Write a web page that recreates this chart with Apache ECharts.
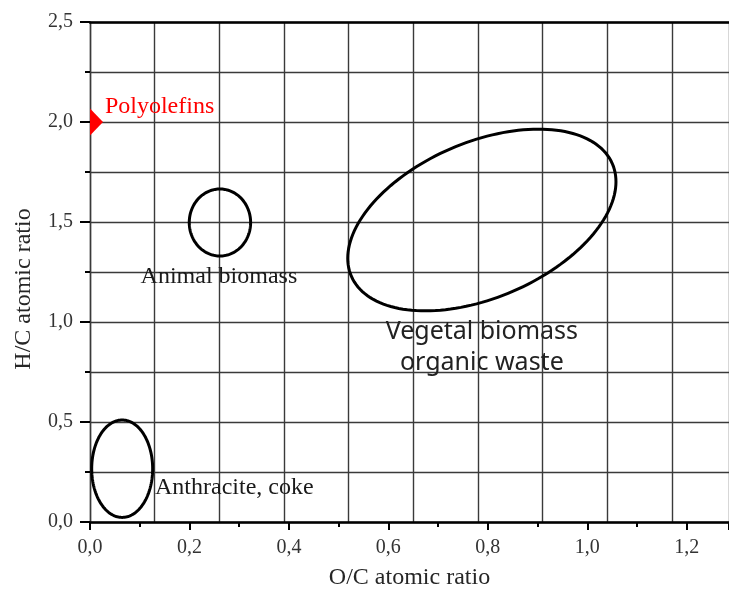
<!DOCTYPE html>
<html>
<head>
<meta charset="utf-8">
<script src="https://cdn.jsdelivr.net/npm/echarts@6/dist/echarts.min.js"></script>
<style>
html,body{margin:0;padding:0;background:#fff;}
#chart{width:729px;height:598px;}
</style>
</head>
<body>
<div id="chart"></div>
<script>
// ---- data ----
var xTicks = [0, 0.2, 0.4, 0.6, 0.8, 1.0, 1.2];
var yTicks = [0, 0.5, 1.0, 1.5, 2.0, 2.5];
var regionNames = ['Anthracite, coke', 'Animal biomass', 'Vegetal biomass\norganic waste'];
var regionCenterX = [0.0647, 0.2613, 0.788];
var regionCenterY = [0.2665, 1.4975, 1.51];
var regionRadiusX = [0.0613, 0.0617, 0.2697];
var regionRadiusY = [0.2435, 0.1675, 0.412];
var regionTilt = [0, 0, 0.1915];
var regionLabelX = [0.1307, 0.2593, 0.788];
var regionLabelY = [0.17, 1.225, 0.875];
var pointName = ['Polyolefins'];
var pointX = [0];
var pointY = [2.0];
var pointLabelX = [0.030];
var pointLabelY = [2.075];

var chart = echarts.init(document.getElementById('chart'));
var serif = "'Liberation Serif','Times New Roman',serif";
function fmt(v){ return v.toFixed(1).replace('.', ','); }

var ellipseData = regionCenterX.map(function(c, i){
  return [c, regionCenterY[i], regionRadiusX[i], regionRadiusY[i], regionTilt[i]];
});

function renderEllipse(params, api){
  var cx = api.value(0), cy = api.value(1), rx = api.value(2), ry = api.value(3), tl = api.value(4);
  var pts = [];
  var N = 160;
  for (var k = 0; k < N; k++){
    var t = 2 * Math.PI * k / N;
    pts.push(api.coord([cx + rx * Math.cos(t), cy + tl * Math.cos(t) + ry * Math.sin(t)]));
  }
  return {type:'polygon', shape:{points: pts}, style:{fill:'none', stroke:'#000', lineWidth:3}};
}

var txt = {textBorderWidth: 0, textShadowBlur: 0};
function lbl(extra){ return Object.assign({show: true, formatter: function(p){return p.value[2];}}, txt, extra); }
var solid = {opacity: 1};

var xMax = 1.285;
var option = {
  animation: false,
  grid: {left: 90, top: 22, right: 0, bottom: 76, containLabel: false},
  xAxis: [{
    type: 'value', min: 0, max: xMax, interval: 0.2, position: 'bottom',
    name: 'O/C atomic ratio', nameLocation: 'middle', nameGap: 44,
    nameTextStyle: {fontFamily: serif, fontSize: 24, color: '#262626'},
    axisLine: {show: true, lineStyle: {color: '#000', width: 2.5}},
    axisTick: {show: true, length: 8, lineStyle: {color: '#000', width: 2}},
    minorTick: {show: true, splitNumber: 2, length: 5, lineStyle: {color: '#000', width: 2}},
    splitLine: {show: false},
    axisLabel: {fontFamily: serif, fontSize: 20, color: '#333', margin: 16, formatter: fmt,
      customValues: xTicks}
  }, {
    type: 'value', min: 0, max: xMax, interval: 0.13, position: 'top',
    axisLine: {show: true, lineStyle: {color: '#000', width: 2.5}},
    axisTick: {show: false}, axisLabel: {show: false},
    splitLine: {show: true, lineStyle: {color: '#3a3a3a', width: 1.4}}
  }],
  yAxis: [{
    type: 'value', min: 0, max: 2.5, interval: 0.5,
    name: 'H/C atomic ratio', nameLocation: 'middle', nameGap: 54,
    nameTextStyle: {fontFamily: serif, fontSize: 24, color: '#262626', padding: [0, 34, 0, 0]},
    axisLine: {show: true, lineStyle: {color: '#3a3a3a', width: 1.4}},
    axisTick: {show: true, length: 10, lineStyle: {color: '#000', width: 2}},
    minorTick: {show: true, splitNumber: 2, length: 5, lineStyle: {color: '#000', width: 2}},
    splitLine: {show: true, lineStyle: {color: '#3a3a3a', width: 1.4}},
    minorSplitLine: {show: true, lineStyle: {color: '#3a3a3a', width: 1.4}},
    axisLabel: {fontFamily: serif, fontSize: 20, color: '#333', margin: 17, formatter: fmt,
      customValues: yTicks}
  }],
  series: [{
    type: 'custom', renderItem: renderEllipse, data: ellipseData,
    encode: {x: 0, y: 1}, clip: false, z: 3
  }, {
    type: 'scatter', symbolSize: 0, z: 4, itemStyle: solid,
    data: [[regionLabelX[0], regionLabelY[0], regionNames[0]]],
    label: lbl({position: 'right', distance: 0, fontFamily: serif, fontSize: 24, color: '#1a1a1a'})
  }, {
    type: 'scatter', symbolSize: 0, z: 4, itemStyle: solid,
    data: [[regionLabelX[1], regionLabelY[1], regionNames[1]]],
    label: lbl({position: 'inside', fontFamily: serif, fontSize: 24, color: '#1a1a1a'})
  }, {
    type: 'scatter', symbolSize: 0, z: 4, itemStyle: solid,
    data: [[regionLabelX[2], regionLabelY[2], regionNames[2]]],
    label: lbl({position: 'inside', fontFamily: "'Noto Sans',sans-serif", fontSize: 25, lineHeight: 31, color: '#222'})
  }, {
    type: 'scatter', z: 5,
    symbol: 'path://M0,0 L1,0.5 L0,1 Z', symbolSize: [13, 27], symbolOffset: [6.5, 0],
    itemStyle: {color: '#ff0000', opacity: 1},
    data: pointX.map(function(x, i){ return [x, pointY[i]]; })
  }, {
    type: 'scatter', symbolSize: 0, z: 5, itemStyle: solid,
    data: pointLabelX.map(function(x, i){ return [x, pointLabelY[i], pointName[i]]; }),
    label: lbl({position: 'right', distance: 0, fontFamily: serif, fontSize: 24, color: '#ff0000'})
  }]
};
chart.setOption(option);
</script>
</body>
</html>
